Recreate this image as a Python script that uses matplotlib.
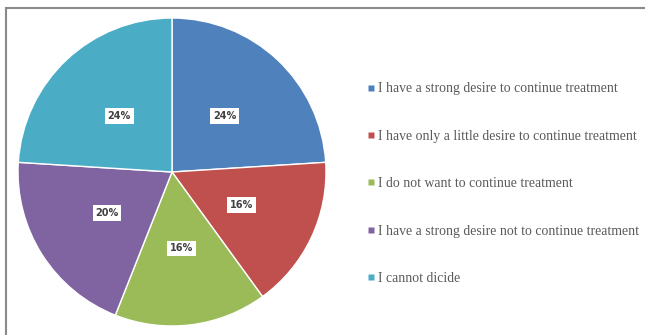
import matplotlib.pyplot as plt
from matplotlib.lines import Line2D
from matplotlib.patches import Rectangle

# answers and their shares
labels = [
    "I have a strong desire to continue treatment",
    "I have only a little desire to continue treatment",
    "I do not want to continue treatment",
    "I have a strong desire not to continue treatment",
    "I cannot dicide",
]
shares = [24, 16, 16, 20, 24]
colors = ['#4f81bd', '#c0504d', '#9bbb59', '#8064a2', '#4bacc6']

fig = plt.figure(figsize=(6.45, 3.35), dpi=100)

# gray frame around the chart area
fig.patches.append(Rectangle((6 / 645, -0.1), 1.2, 1 - 8 / 335 + 0.1,
                             transform=fig.transFigure, fill=False,
                             edgecolor='#8a8a8a', linewidth=1.5))

cx, cy, r = 172, 172, 154
ax = fig.add_axes([(cx - r) / 645, (335 - cy - r) / 335, 2 * r / 645, 2 * r / 335])
wedges, _, autotexts = ax.pie(
    shares, colors=colors, startangle=90, counterclock=False,
    autopct='%d%%', pctdistance=0.5,
    wedgeprops=dict(edgecolor='white', linewidth=1))
for t in autotexts:
    t.set_fontsize(7)
    t.set_fontweight('bold')
    t.set_color('#404040')
    t.set_bbox(dict(facecolor='white', edgecolor='none', pad=2))
ax.set_xlim(-1, 1)
ax.set_ylim(-1, 1)
ax.set_aspect('equal')

handles = [Line2D([], [], linestyle='none', marker='s', markersize=4.5,
                  markerfacecolor=c, markeredgecolor='none') for c in colors]
fig.legend(handles, labels, loc='upper left', bbox_to_anchor=(354 / 645, 1 - 70 / 335),
           frameon=False, handlelength=0.6, handletextpad=0.25, labelspacing=2.5,
           prop=dict(family='Liberation Serif', size=9.9), labelcolor='#595959')

fig.savefig('out.png', dpi=100)
